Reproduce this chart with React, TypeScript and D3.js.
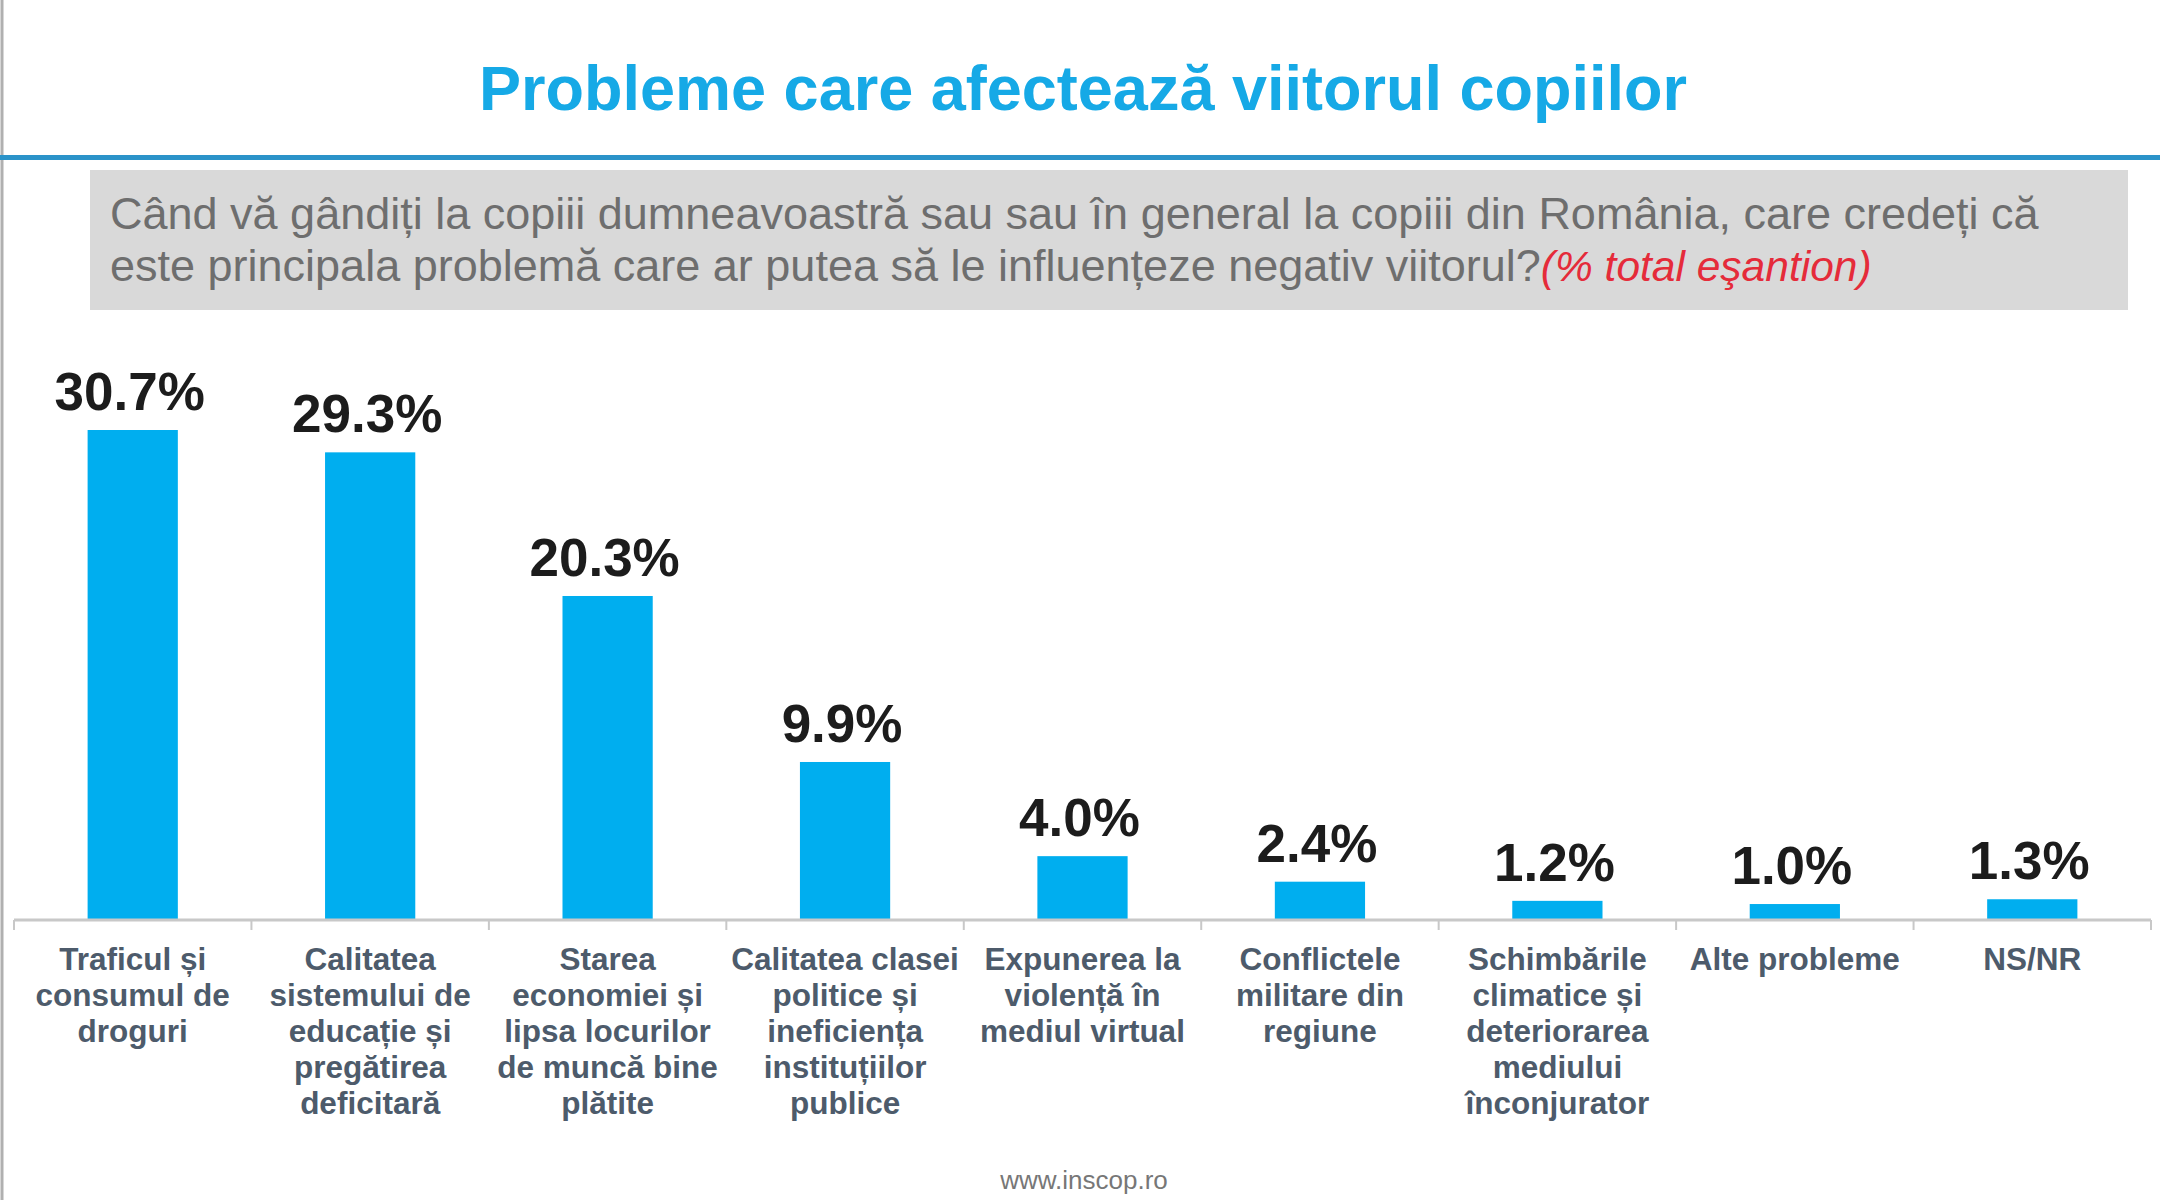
import React from "react";
import * as d3 from "d3";

const categories: string[][] = [
  ["Traficul și", "consumul de", "droguri"],
  ["Calitatea", "sistemului de", "educație și", "pregătirea", "deficitară"],
  ["Starea", "economiei și", "lipsa locurilor", "de muncă bine", "plătite"],
  ["Calitatea clasei", "politice și", "ineficiența", "instituțiilor", "publice"],
  ["Expunerea la", "violență în", "mediul virtual"],
  ["Conflictele", "militare din", "regiune"],
  ["Schimbările", "climatice și", "deteriorarea", "mediului", "înconjurator"],
  ["Alte probleme"],
  ["NS/NR"],
];
const values: number[] = [30.7, 29.3, 20.3, 9.9, 4.0, 2.4, 1.2, 1.0, 1.3];
const valueLabels: string[] = ["30.7%", "29.3%", "20.3%", "9.9%", "4.0%", "2.4%", "1.2%", "1.0%", "1.3%"];
const title = "Probleme care afectează viitorul copiilor";
const subtitleLines: string[] = [
  "Când vă gândiți la copiii dumneavoastră sau sau în general la copiii din România, care credeți că",
  "este principala problemă care ar putea să le influențeze negativ viitorul?",
];
const subtitleNote = "(% total eşantion)";
const footer = "www.inscop.ro";

const W = 2160;
const H = 1200;
const FONT = "'Liberation Sans', Arial, sans-serif";

export default function App() {
  const ids = categories.map((_, i) => String(i));
  const x = d3.scaleBand<string>().domain(ids).range([14, 2151]).padding(0);
  const y = d3.scaleLinear().domain([0, 30.7]).range([920, 430]);
  const barW = x.bandwidth() * 0.38;
  const baseY = y(0);

  return (
    <svg width={W} height={H} style={{ position: "absolute", left: 0, top: 0, background: "#fff" }}>
      <rect x={0} y={0} width={W} height={H} fill="#fff" />
      <line x1={2} x2={2} y1={0} y2={H} stroke="#b0b0b0" strokeWidth={3} />
      <text x={1083} y={110} textAnchor="middle" fontFamily={FONT} fontWeight="bold" fontSize={63} fill="#16a9e6">
        {title}
      </text>
      <rect x={0} y={155} width={W} height={5} fill="#2b93c9" />
      <rect x={90} y={170} width={2038} height={140} fill="#d9d9d9" />
      <text x={110} y={229} fontFamily={FONT} fontSize={45} fill="#6e6e6e">
        {subtitleLines[0]}
      </text>
      <text x={110} y={281} fontFamily={FONT} fontSize={45} fill="#6e6e6e">
        {subtitleLines[1]}
        <tspan fill="#e52b3a" fontStyle="italic" fontSize={42.5}>{subtitleNote}</tspan>
      </text>

      {values.map((v, i) => {
        const cx = (x(ids[i]) as number) + x.bandwidth() / 2;
        return (
          <g key={i}>
            <rect x={cx - barW / 2} y={y(v)} width={barW} height={baseY - y(v)} fill="#00aeef" />
            <text x={cx - 3} y={y(v) - 20} textAnchor="middle" fontFamily={FONT} fontWeight="bold" fontSize={53} fill="#1c1c1c">
              {valueLabels[i]}
            </text>
            {categories[i].map((line, j) => (
              <text key={j} x={cx} y={970 + j * 36} textAnchor="middle" fontFamily={FONT} fontWeight="bold" fontSize={31.5} fill="#4d5b6b">
                {line}
              </text>
            ))}
          </g>
        );
      })}
      <line x1={14} x2={2151} y1={baseY} y2={baseY} stroke="#c8c8c8" strokeWidth={3} />
      {d3.range(ids.length + 1).map((k) => {
        const tx = 14 + k * x.step();
        return <line key={k} x1={tx} x2={tx} y1={baseY} y2={baseY + 10} stroke="#c8c8c8" strokeWidth={2} />;
      })}
      <text x={1084} y={1189} textAnchor="middle" fontFamily={FONT} fontSize={26} fill="#777">
        {footer}
      </text>
    </svg>
  );
}
